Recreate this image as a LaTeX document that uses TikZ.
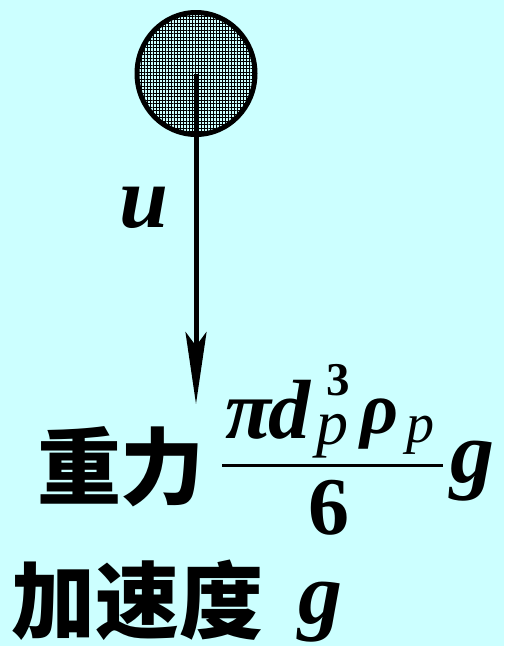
\documentclass[tikz,border=0pt]{standalone}
\usepackage{fontspec}
\setmainfont{Liberation Serif}
\newfontfamily\cjk{Noto Sans CJK SC}
\usetikzlibrary{arrows.meta,shapes.geometric,patterns.meta}
\definecolor{bg}{RGB}{204,255,255}
\newcommand{\fs}[1]{\fontsize{#1}{#1}\selectfont}
\tikzset{
  txt/.style={inner sep=0pt, outer sep=0pt, text=black},
  cjktxt/.style={txt, font=\cjk\bfseries\fs{84}},
  bigbi/.style={txt, font=\bfseries\itshape\fs{88}},
  numbi/.style={txt, font=\bfseries\itshape\fs{84}},
  subit/.style={txt, font=\itshape\fs{#1}},
}
\begin{document}
\begin{tikzpicture}[x=1pt,y=-1pt]
\fill[bg] (0,0) rectangle (504,646);
\useasboundingbox (0,0) rectangle (504,646);
% ball
\node[ellipse, draw=black, line width=5pt, fill=bg,
      minimum width=118pt, minimum height=122pt, inner sep=0pt] (ball) at (196,73.5) {};
\fill[pattern={Lines[distance=3pt, angle=90, line width=1pt]}, pattern color=black]
  (ball.center) ellipse [x radius=57pt, y radius=59pt];
\fill[pattern={Lines[distance=3.5pt, angle=0, line width=0.6pt]}, pattern color=black]
  (ball.center) ellipse [x radius=57pt, y radius=59pt];
\coordinate (tip) at (196,404);
\draw[line width=5pt, -{Stealth[length=72pt, width=21pt, inset=14pt]}] (ball.center) -- (tip);
% u
\node[bigbi, anchor=base west] (u) at (119,227) {u};
% gravity
\node[cjktxt, anchor=center] (zl) at (121,467) {重力};
\node[numbi, anchor=base west] (pi) at (225,438) {π};
\node[numbi, anchor=base west] (d) at (268,438) {d};
\node[txt, font=\bfseries\fs{47}, anchor=base west] (three) at (326,395) {3};
\node[subit=64, anchor=base west] (p1) at (316,444) {p};
\node[txt, font=\bfseries\itshape\fs{74}, anchor=base west] (rho) at (360,433) {ρ};
\node[subit=56, anchor=base west] (p2) at (406,442) {p};
\coordinate (barl) at (222,465);
\coordinate (barr) at (443,465);
\draw[line width=3pt] (barl) -- (barr);
\node[txt, font=\bfseries\fs{82}, anchor=base] (den) at (329,534) {6};
\node[bigbi, anchor=base west] (g1) at (450,482) {g};
% acceleration
\node[cjktxt, anchor=center] (jsd) at (138,600) {加速度};
\node[bigbi, anchor=base west] (g2) at (298,623) {g};
\end{tikzpicture}
\end{document}
